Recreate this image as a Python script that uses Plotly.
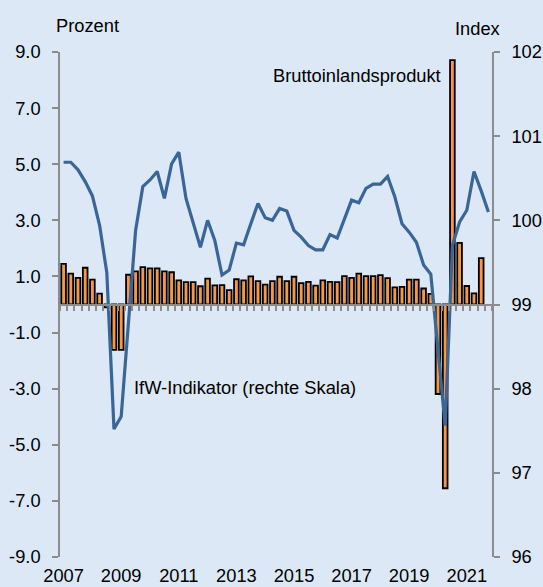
import plotly.graph_objects as go

# Quarterly categories 2007Q1 .. 2021Q4
years = list(range(2007, 2022))
quarters = [f"{y}Q{q}" for y in years for q in range(1, 5)]

# Bruttoinlandsprodukt, Veränderung gegenüber Vorquartal in Prozent (2007Q1 .. 2021Q3)
bip = [1.45, 1.10, 0.95, 1.31, 0.89, 0.39, -0.10, -1.62, -1.62, 1.06,
       1.18, 1.33, 1.29, 1.29, 1.18, 1.15, 0.86, 0.80, 0.80, 0.65,
       0.92, 0.68, 0.69, 0.51, 0.90, 0.86, 1.00, 0.83, 0.71, 0.83,
       0.99, 0.83, 0.99, 0.76, 0.81, 0.67, 0.86, 0.81, 0.80, 1.01,
       0.95, 1.10, 1.01, 1.01, 1.05, 0.94, 0.61, 0.63, 0.89, 0.89,
       0.57, 0.38, -3.19, -6.55, 8.71, 2.20, 0.66, 0.40, 1.65]

# IfW-Indikator, Index (rechte Skala) (2007Q1 .. 2021Q4)
ifw = [100.69, 100.69, 100.60, 100.46, 100.29, 99.94, 99.38, 97.52, 97.67, 98.80,
       99.88, 100.40, 100.48, 100.58, 100.26, 100.67, 100.81, 100.26, 99.96, 99.68,
       100.00, 99.76, 99.35, 99.41, 99.73, 99.71, 99.96, 100.20, 100.03, 100.00,
       100.14, 100.11, 99.88, 99.80, 99.70, 99.65, 99.65, 99.83, 99.79, 100.02,
       100.24, 100.21, 100.38, 100.43, 100.43, 100.52, 100.28, 99.96, 99.86, 99.74,
       99.47, 99.36, 98.50, 97.56, 99.70, 99.98, 100.12, 100.58, 100.35, 100.10]

x_labels = [str(y) for y in range(2007, 2022, 2)]
left_ticks = [-9, -7, -5, -3, -1, 1, 3, 5, 7, 9]
right_ticks = [96, 97, 98, 99, 100, 101, 102]

idx_bars = list(range(len(bip)))
idx_line = list(range(len(ifw)))
n_cat = len(quarters)

BG = "#dce8f6"
AXC = "#8c8c8c"
FONT = "Liberation Sans, Arial, sans-serif"
FS = 18.3

fig = go.Figure()
fig.add_trace(go.Bar(
    x=idx_bars, y=bip, name="Bruttoinlandsprodukt",
    marker=dict(color="#f79646", line=dict(color="#000000", width=1.8)),
    xaxis="x", yaxis="y",
))
fig.add_trace(go.Scatter(
    x=idx_line, y=ifw, mode="lines", name="IfW-Indikator",
    line=dict(color="#3a6597", width=3.2),
    xaxis="x2", yaxis="y2",
))

fig.update_layout(
    template="none",
    width=543, height=587,
    margin=dict(l=60, r=51, t=52, b=30, autoexpand=False),
    paper_bgcolor=BG, plot_bgcolor=BG,
    showlegend=False, bargap=0.35,
    font=dict(family=FONT, size=FS, color="#000000"),
    xaxis=dict(
        range=[-0.5, n_cat - 0.5], tickmode="array", automargin=False,
        tickvals=[quarters.index(f"{y}Q1") for y in range(2007, 2022, 2)],
        ticktext=x_labels, ticks="", showline=False, showgrid=False,
        zeroline=False, ticklabelstandoff=6,
    ),
    xaxis2=dict(
        range=[-0.5, n_cat - 0.5], overlaying="x", anchor="free", position=0.5,
        tickmode="array", tickvals=[i - 0.5 for i in range(n_cat + 1)],
        showticklabels=False, ticks="outside", ticklen=5, tickwidth=1.5,
        tickcolor=AXC, showline=True, linecolor=AXC, linewidth=2,
        showgrid=False, zeroline=False, automargin=False,
    ),
    yaxis=dict(
        range=[-9, 9], tickmode="array", tickvals=left_ticks,
        ticktext=[f"{v:.1f}" for v in left_ticks],
        ticks="outside", ticklen=6, tickwidth=1.5, tickcolor=AXC,
        showline=True, linecolor=AXC, linewidth=1.5, automargin=False,
        showgrid=False, zeroline=False, ticklabelstandoff=8,
    ),
    yaxis2=dict(
        range=[96, 102], overlaying="y", side="right", anchor="x",
        tickmode="array", tickvals=right_ticks, automargin=False,
        ticks="outside", ticklen=6, tickwidth=1.5, tickcolor=AXC,
        showline=True, linecolor=AXC, linewidth=1.5,
        showgrid=False, zeroline=False, ticklabelstandoff=8,
    ),
    annotations=[
        dict(text="Prozent", xref="paper", yref="paper", x=-0.014, y=1.053,
             xanchor="left", yanchor="middle", showarrow=False),
        dict(text="Index", xref="paper", yref="paper", x=0.966, y=1.047,
             xanchor="center", yanchor="middle", showarrow=False),
        dict(text="Bruttoinlandsprodukt", xref="paper", yref="paper", x=0.8866, y=0.954,
             xanchor="right", yanchor="middle", showarrow=False),
        dict(text="IfW-Indikator (rechte Skala)", xref="paper", yref="paper", x=0.166, y=0.335,
             xanchor="left", yanchor="middle", showarrow=False),
    ],
)

fig.write_html(
    "out.html",
    config={"displayModeBar": False},
    post_script="document.body.style.margin='0';document.body.style.padding='0';"
                "document.documentElement.style.background='" + BG + "';",
)
